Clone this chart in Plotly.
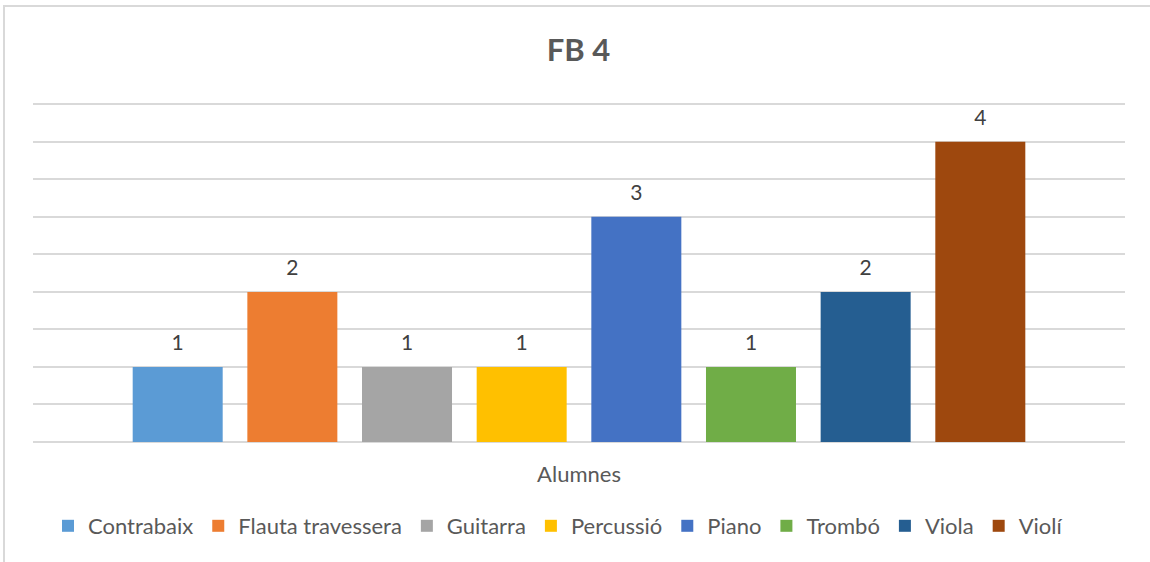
import plotly.graph_objects as go

categories = ["Alumnes"]
instruments = ["Contrabaix", "Flauta travessera", "Guitarra", "Percussió",
               "Piano", "Trombó", "Viola", "Violí"]
values = [1, 2, 1, 1, 3, 1, 2, 4]
colors = ["#5B9BD5", "#ED7D31", "#A5A5A5", "#FFC000",
          "#4472C4", "#70AD47", "#255E91", "#9E480E"]
title_text = "FB 4"

FONT = "Lato, Carlito, Calibri, sans-serif"
BARGAP = 0.16

fig = go.Figure()
for name, val, col in zip(instruments, values, colors):
    fig.add_trace(go.Bar(
        x=categories, y=[val], name=name,
        marker=dict(color=col, line=dict(width=0)),
        hoverinfo="x+y+name",
    ))
# data labels, grouped like the bars
for name, val in zip(instruments, values):
    fig.add_trace(go.Scatter(
        x=categories, y=[val], mode="markers+text", showlegend=False,
        text=[str(val)], textposition="top center",
        textfont=dict(family=FONT, size=21, color="#404040"),
        marker=dict(size=17, color="rgba(0,0,0,0)"),
        hoverinfo="skip", cliponaxis=False,
    ))

W, H = 1150, 562
L, R, T, B = 33, 25, 102, 120
pw, ph = W - L - R, H - T - B

def px2x(px):
    return (px - L) / pw

def py2y(py):
    return (H - B - py) / ph

fig.update_layout(
    width=W, height=H,
    margin=dict(l=L, r=R, t=T, b=B, autoexpand=False),
    paper_bgcolor="white", plot_bgcolor="white",
    barmode="group", bargap=BARGAP, bargroupgap=0.215,
    scattermode="group", scattergap=BARGAP,
    title=dict(text="<b>" + title_text + "</b>", x=0.503, xanchor="center",
               y=1 - 50 / H, yanchor="middle",
               font=dict(family=FONT, size=31, color="#595959")),
    font=dict(family=FONT, color="#595959"),
    xaxis=dict(showgrid=False, showline=False, ticks="",
               tickfont=dict(family=FONT, size=22, color="#595959"),
               ticklabelstandoff=17),
    yaxis=dict(range=[0, 4.53], dtick=0.5, tick0=0, showticklabels=False,
               showgrid=True, gridcolor="#D9D9D9", gridwidth=1.5,
               zeroline=True, zerolinecolor="#D9D9D9", zerolinewidth=1.5,
               showline=False, ticks=""),
    legend=dict(orientation="h", x=px2x(558), xanchor="center",
                y=py2y(526), yanchor="middle",
                font=dict(family=FONT, size=22, color="#595959"),
                itemwidth=30, tracegroupgap=0, traceorder="normal"),
    showlegend=True,
    shapes=[dict(type="rect", xref="paper", yref="paper",
                 x0=px2x(4), x1=px2x(1160), y0=py2y(575), y1=py2y(6),
                 line=dict(color="#D9D9D9", width=2), fillcolor="rgba(0,0,0,0)",
                 layer="below")],
)

fig.write_html("out.html", config={"displayModeBar": False},
               post_script="document.body.style.margin='0';")
